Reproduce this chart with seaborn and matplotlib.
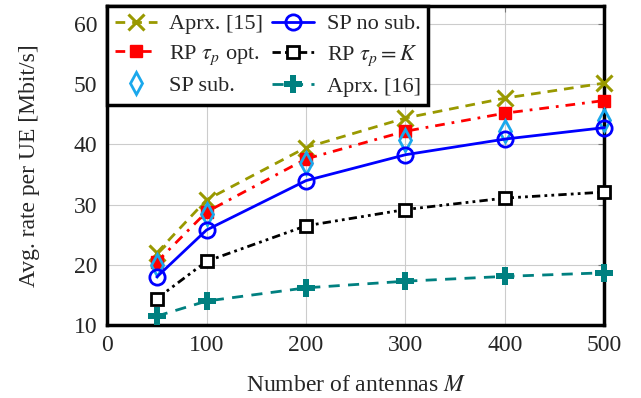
import pandas as pd
import numpy as np

import seaborn as sns
import matplotlib.pyplot as plt

# antennas and rates
M = [50, 100, 200, 300, 400, 500]
aprx15 = [22.0, 30.8, 39.5, 44.4, 47.7, 50.2]
rp_opt = [20.5, 28.8, 37.6, 42.2, 45.2, 47.3]
sp_sub = [20.0, 28.5, 37.0, 40.7, 42.3, 44.0]
sp_nosub = [18.0, 25.8, 34.0, 38.3, 40.9, 42.8]
rp_k = [14.4, 20.6, 26.5, 29.2, 31.1, 32.1]
aprx16 = [11.5, 14.0, 16.2, 17.3, 18.1, 18.7]

# order so that the 2-column legend fills row by row like the original
names = ["Aprx. [15]", r"RP $\tau_p$ opt.", "SP sub.",
         "SP no sub.", r"RP $\tau_p=K$", "Aprx. [16]"]
values = [aprx15, rp_opt, sp_sub, sp_nosub, rp_k, aprx16]

df = pd.concat([pd.DataFrame({"M": M, "rate": v, "scheme": n})
                for n, v in zip(names, values)], ignore_index=True)

sns.set_style('whitegrid')
plt.rcParams['font.family'] = ['Liberation Serif', 'DejaVu Serif']
plt.rcParams['mathtext.fontset'] = 'stix'
plt.rcParams['xtick.direction'] = 'in'
plt.rcParams['ytick.direction'] = 'in'

styles = {
    "Aprx. [15]": dict(color='#999900', ls=(0, (3.5, 2.5)), marker='x', ms=11, mew=2.2, mfc='none'),
    "SP no sub.": dict(color='#0000ff', ls='-', marker='o', ms=11, mew=2, mfc='none'),
    r"RP $\tau_p$ opt.": dict(color='#ff0000', ls=(0, (3.5, 2.5, 1, 2.5)), marker='s', ms=8, mew=1, mfc='#ff0000'),
    r"RP $\tau_p=K$": dict(color='black', ls=(0, (3, 1.5, 1, 1.5, 1, 1.5)), marker='s', ms=8, mew=2, mfc='white'),
    "SP sub.": dict(color='#1aa8ec', ls='none', marker='d', ms=11, mew=2, mfc='none'),
    "Aprx. [16]": dict(color='#008080', ls=(0, (4, 3)), marker='P', ms=13, mew=0, mfc='#008080'),
}

fig = plt.figure(figsize=(6.41, 3.98), dpi=100)
ax = fig.add_axes([0.167, 0.183, 0.776, 0.802])

for n in names:
    st = styles[n]
    sub = df[df.scheme == n]
    sns.lineplot(data=sub, x="M", y="rate", ax=ax, label=n, color=st['color'],
                 linestyle=st['ls'], linewidth=2, marker=st['marker'], markersize=st['ms'],
                 markeredgewidth=st['mew'], markerfacecolor=st['mfc'],
                 markeredgecolor=st['color'], clip_on=False, zorder=3)

ax.set_xlim(0, 500)
ax.set_ylim(10, 63)
ax.set_xticks([0, 100, 200, 300, 400, 500])
ax.set_yticks([10, 20, 30, 40, 50, 60])
ax.grid(True, color='#cccccc', linewidth=0.8)
for s in ax.spines.values():
    s.set_color('black')
    s.set_linewidth(2.5)
ax.tick_params(labelsize=17, length=4, color='#777777', right=True, top=True, pad=7)

ax.set_xlabel(r"Number of antennas $M$", fontsize=17, labelpad=14)
ax.set_ylabel("Avg. rate per UE [Mbit/s]", fontsize=17, labelpad=24)

leg = ax.legend(loc='upper left', ncol=2, fontsize=16, frameon=True, fancybox=False,
                borderaxespad=0, handlelength=1.9, columnspacing=0.4, handletextpad=0.55,
                labelspacing=0.4, borderpad=0.35)
leg.get_frame().set_edgecolor('black')
leg.get_frame().set_linewidth(2.5)
leg.get_frame().set_alpha(1)

fig.savefig("out.png", dpi=100)
